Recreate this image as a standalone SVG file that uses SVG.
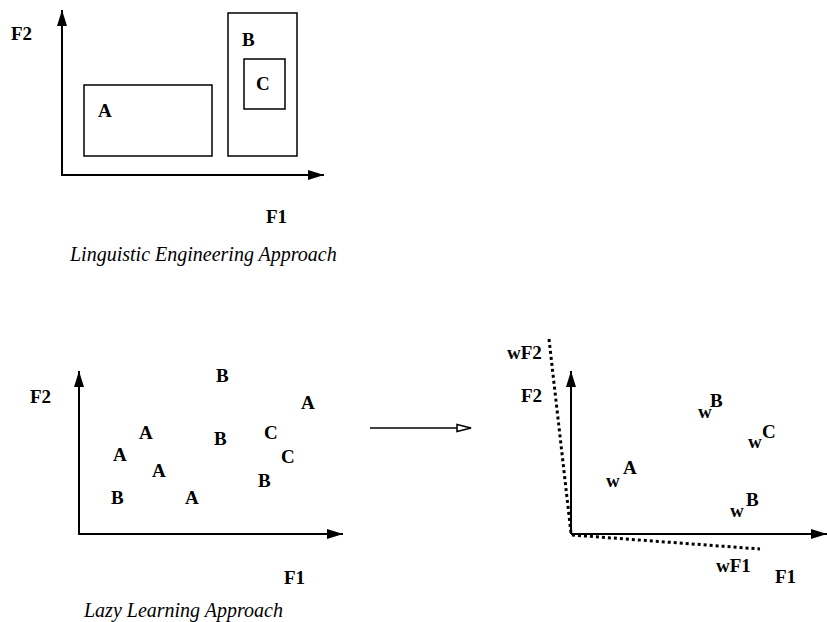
<svg xmlns="http://www.w3.org/2000/svg" width="827" height="622" viewBox="0 0 827 622">
<style>
.ax{stroke:#000;stroke-width:2;fill:none}
.bx{stroke:#000;stroke-width:1.5;fill:none}
.dt{stroke:#000;stroke-width:3;fill:none;stroke-dasharray:3 3}
.l{font-family:"Liberation Serif","Times New Roman",serif;font-weight:bold;font-size:19px;fill:#000}
.cap{font-family:"Liberation Serif","Times New Roman",serif;font-style:italic;font-size:20px;fill:#000}
</style>
<defs>
<marker id="ah" markerWidth="16" markerHeight="10" refX="16" refY="5" orient="auto" markerUnits="userSpaceOnUse">
<path d="M0,0 L16,5 L0,10 Z" fill="#000"/>
</marker>
<marker id="oh" markerWidth="16" markerHeight="10" refX="15" refY="5" orient="auto" markerUnits="userSpaceOnUse">
<path d="M1,1.5 L15,5 L1,8.5 Z" fill="#fff" stroke="#000" stroke-width="1.5"/>
</marker>
</defs>

<g id="connectors">
<line class="ax" x1="62" y1="176" x2="62" y2="10" marker-end="url(#ah)"/>
<line class="ax" x1="62" y1="175" x2="324" y2="175" marker-end="url(#ah)"/>
<line class="ax" x1="79" y1="535" x2="79" y2="371" marker-end="url(#ah)"/>
<line class="ax" x1="79" y1="534" x2="343" y2="534" marker-end="url(#ah)"/>
<line x1="370" y1="428" x2="471" y2="428" stroke="#000" stroke-width="1.5" marker-end="url(#oh)"/>
<line class="ax" x1="571" y1="534" x2="571" y2="371" marker-end="url(#ah)"/>
<line class="ax" x1="571" y1="534" x2="827" y2="534" marker-end="url(#ah)"/>
<line class="dt" x1="549" y1="339" x2="571" y2="533"/>
<line class="dt" x1="572" y1="535" x2="760" y2="549"/>
</g>

<g id="top-panel">
<text class="l" x="11" y="40">F2</text>
<text class="l" x="266" y="223">F1</text>
<g id="region-A">
<rect class="bx" x="84" y="85" width="128" height="71"/>
<text class="l" x="98" y="117">A</text>
</g>
<g id="region-B">
<rect class="bx" x="228" y="13" width="69" height="143"/>
<text class="l" x="242" y="46">B</text>
</g>
<g id="region-C">
<rect class="bx" x="244" y="59" width="41" height="50"/>
<text class="l" x="256" y="90">C</text>
</g>
<text class="cap" x="70" y="261">Linguistic Engineering Approach</text>
</g>

<g id="bottom-left">
<text class="l" x="30" y="403">F2</text>
<text class="l" x="284" y="584">F1</text>
<text class="l" x="216" y="382">B</text>
<text class="l" x="301" y="409">A</text>
<text class="l" x="139" y="439">A</text>
<text class="l" x="214" y="445">B</text>
<text class="l" x="264" y="439">C</text>
<text class="l" x="113" y="461">A</text>
<text class="l" x="281" y="463">C</text>
<text class="l" x="152" y="477">A</text>
<text class="l" x="258" y="487">B</text>
<text class="l" x="111" y="504">B</text>
<text class="l" x="185" y="504">A</text>
<text class="cap" x="84" y="617">Lazy Learning Approach</text>
</g>

<g id="bottom-right">
<text class="l" x="507" y="359">wF2</text>
<text class="l" x="521" y="402">F2</text>
<text class="l" x="716" y="572">wF1</text>
<text class="l" x="775" y="583">F1</text>
<text class="l" x="698" y="418">w</text><text class="l" x="710" y="407">B</text>
<text class="l" x="748" y="448">w</text><text class="l" x="762" y="438">C</text>
<text class="l" x="606" y="487">w</text><text class="l" x="623" y="474">A</text>
<text class="l" x="730" y="517">w</text><text class="l" x="746" y="506">B</text>
</g>
</svg>
